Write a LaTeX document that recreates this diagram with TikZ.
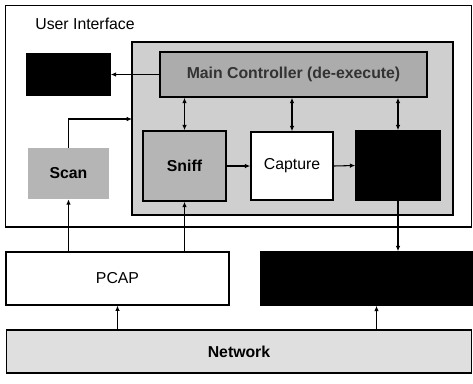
\documentclass[tikz,border=0pt]{standalone}
\usepackage{fontspec}
\setmainfont{Liberation Sans}
\usetikzlibrary{positioning,arrows.meta,calc}

\begin{document}
\begin{tikzpicture}[
  x=0.02cm, y=-0.02cm,
  every node/.style={font=\fontsize{9}{11}\selectfont},
  blk/.style={draw, line width=0.9pt, inner sep=0pt},
  darkblk/.style={blk, fill=black},
  boldtxt/.style={font=\fontsize{9}{11}\selectfont\bfseries},
  arr/.style={-{Latex[length=3pt,width=2.6pt]}, line width=0.6pt},
  dbl/.style={{Latex[length=3pt,width=2.6pt]}-{Latex[length=3pt,width=2.6pt]}, line width=0.6pt}
]
\useasboundingbox (0,0) rectangle (473,383);
% user interface frame
\node[draw, line width=0.6pt, minimum width=9.34cm, minimum height=4.44cm] (ui) at (238.5,116) {};
\node[anchor=west, inner sep=0pt] (uilabel) at (35,24) {User Interface};
\node[blk, fill=gray!38, minimum width=6.42cm, minimum height=3.46cm] (core) at (292.5,128.5) {};
% boxes inside
\node[blk, boldtxt, fill=gray!65, text=black!80, minimum width=5.34cm, minimum height=0.9cm] (ctrl) at (293.5,74.5) {Main Controller (de-execute)};
\node[darkblk, minimum width=1.66cm, minimum height=0.82cm] (disp) at (68.5,74.5) {};
\node[blk, boldtxt, fill=gray!58, minimum width=1.66cm, minimum height=1.4cm] (sniff) at (184.5,166) {Sniff};
\node[blk, fill=white, minimum width=1.64cm, minimum height=1.36cm] (capture) at (292,166) {Capture};
\node[darkblk, minimum width=1.68cm, minimum height=1.38cm] (store) at (398,165.5) {};
\node[boldtxt, fill=gray!58, inner sep=0pt, minimum width=1.64cm, minimum height=1.02cm] (scan) at (68.5,173.5) {Scan};
% lower layer
\node[blk, line width=0.6pt, fill=white, minimum width=4.46cm, minimum height=1.06cm] (pcap) at (117.5,278.5) {PCAP};
\node[darkblk, minimum width=4.22cm, minimum height=1.06cm] (out) at (366.5,278.5) {};
\node[blk, boldtxt, line width=0.6pt, fill=gray!25, minimum width=9.32cm, minimum height=0.86cm] (net) at (239,351.5) {Network};
\coordinate (coreIn) at (132,119);
% connectors
\draw[arr] (ctrl.west) -- (disp.east);
\draw[arr] (scan.north) |- (coreIn);
\draw[dbl] (sniff.north) -- (sniff.north |- ctrl.south);
\draw[dbl] (capture.north) -- (capture.north |- ctrl.south);
\draw[dbl] (store.north) -- (store.north |- ctrl.south);
\draw[arr] (sniff.east) -- (capture.west);
\draw[arr] (capture.east) -- (store.west);
\draw[arr] (pcap.north -| scan) -- (scan.south);
\draw[arr] (pcap.north -| sniff) -- (sniff.south);
\draw[arr] (store.south) -- (store.south |- out.north);
\draw[arr] (net.north -| pcap) -- (pcap.south);
\draw[arr] ($(net.north -| out)+(10,0)$) -- ($(out.south)+(10,0)$);
\end{tikzpicture}
\end{document}
